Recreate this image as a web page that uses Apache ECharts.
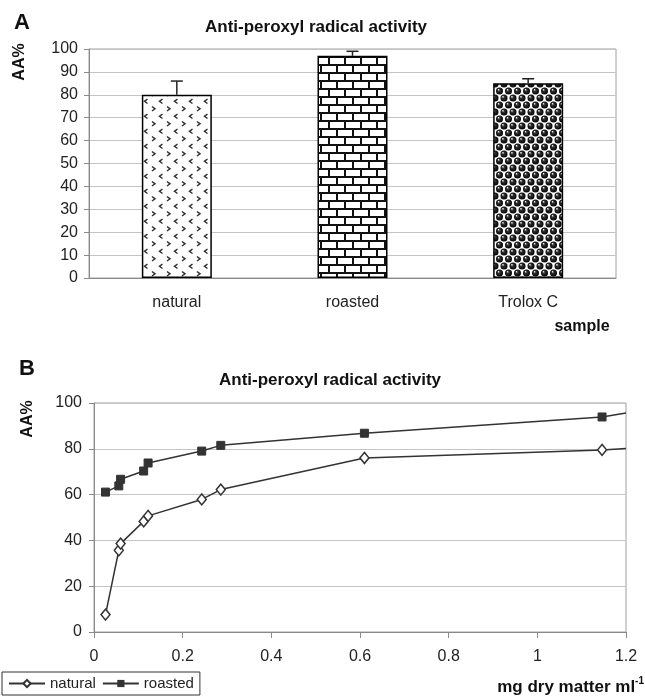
<!DOCTYPE html>
<html>
<head>
<meta charset="utf-8">
<script src="https://cdn.jsdelivr.net/npm/echarts@6/dist/echarts.min.js"></script>
<style>
  html, body { margin: 0; padding: 0; background: #fff; }
  #main { width: 645px; height: 698px; }
</style>
</head>
<body>
<div id="main"></div>
<script>
// panel A data
var categories = ["natural", "roasted", "Trolox C"];
var aaMeans = [80, 97, 85];
var aaErrors = [6, 2, 2];

// panel B data
var concentration = [0.026, 0.056, 0.06, 0.112, 0.122, 0.243, 0.286, 0.61, 1.146, 1.2];
var naturalAA = [7.6, 35.7, 38.6, 48.3, 50.7, 57.9, 62.2, 76.0, 79.5, 80.1];
var roastedAA = [61.1, 63.8, 66.7, 70.3, 73.8, 79.0, 81.5, 86.8, 93.9, 95.6];

var yTicksA = { min: 0, max: 100, interval: 10 };
var yTicksB = { min: 0, max: 100, interval: 20 };
var xTicksB = { min: 0, max: 1.2, interval: 0.2 };

var FONT = '"Liberation Sans", Arial, sans-serif';

// hatch patterns like the excel fills
function chevronPattern() {
  var c = document.createElement("canvas");
  c.width = 15; c.height = 15;
  var g = c.getContext("2d");
  g.fillStyle = "#fff"; g.fillRect(0, 0, 15, 15);
  g.strokeStyle = "#333"; g.lineWidth = 1.5;
  // ">" row
  g.beginPath(); g.moveTo(2, 1.5); g.lineTo(5, 3.8); g.lineTo(2, 6); g.stroke();
  // "<" row, shifted half a tile
  g.beginPath(); g.moveTo(12.5, 9); g.lineTo(9.5, 11.3); g.lineTo(12.5, 13.5); g.stroke();
  return c;
}
function brickPattern() {
  var c = document.createElement("canvas");
  c.width = 16; c.height = 16;
  var g = c.getContext("2d");
  g.fillStyle = "#fff"; g.fillRect(0, 0, 16, 16);
  g.fillStyle = "#111";
  g.fillRect(0, 0, 16, 2);
  g.fillRect(0, 8, 16, 2);
  g.fillRect(0, 0, 2, 8);
  g.fillRect(8, 8, 2, 8);
  return c;
}
function spherePattern() {
  var c = document.createElement("canvas");
  c.width = 9; c.height = 14;
  var g = c.getContext("2d");
  g.fillStyle = "#fff"; g.fillRect(0, 0, 9, 14);
  var pts = [[0, 0], [9, 0], [0, 14], [9, 14], [4.5, 7]];
  pts.forEach(function (p) {
    var gr = g.createRadialGradient(p[0] - 1.2, p[1] - 1.4, 0.2, p[0], p[1], 3.6);
    gr.addColorStop(0, "#eee");
    gr.addColorStop(0.3, "#333");
    gr.addColorStop(1, "#000");
    g.fillStyle = gr;
    g.beginPath(); g.arc(p[0], p[1], 3.5, 0, Math.PI * 2); g.fill();
  });
  return c;
}
var fills = [chevronPattern(), brickPattern(), spherePattern()].map(function (cv) {
  return { image: cv, repeat: "repeat" };
});

var myChart = echarts.init(document.getElementById("main"), null, { renderer: "canvas" });

var axisGray = "#8a8a8a";
var gridGray = "#c4c4c4";

function label(x, y, text, size, rot) {
  return {
    type: "text", x: x, y: y, rotation: rot || 0,
    style: {
      text: text, font: "bold " + size + "px " + FONT, fill: "#111",
      align: "center", verticalAlign: "middle", textAlign: "center", textVerticalAlign: "middle"
    }
  };
}

var option = {
  animation: false,
  backgroundColor: "#fff",
  textStyle: { fontFamily: FONT },
  grid: [
    { left: 89, top: 49, width: 527, height: 229, show: true, borderColor: "#a0a0a0", borderWidth: 1 },
    { left: 94, top: 403, width: 532, height: 229, show: true, borderColor: "#a0a0a0", borderWidth: 1 }
  ],
  xAxis: [
    {
      gridIndex: 0,
      type: "category",
      data: categories,
      axisLine: { lineStyle: { color: axisGray } },
      axisTick: { length: 6, lineStyle: { color: axisGray } },
      axisLabel: { margin: 17, fontSize: 16, color: "#222", fontFamily: FONT }
    },
    {
      gridIndex: 1,
      type: "value",
      min: xTicksB.min,
      max: xTicksB.max,
      interval: xTicksB.interval,
      splitLine: { show: false },
      axisLine: { onZero: false, lineStyle: { color: axisGray } },
      axisTick: { length: 6, lineStyle: { color: axisGray } },
      axisLabel: {
        margin: 17, fontSize: 16, color: "#222", fontFamily: FONT,
        formatter: function (v) { return String(Math.round(v * 10) / 10); }
      }
    }
  ],
  yAxis: [
    {
      gridIndex: 0,
      type: "value",
      min: yTicksA.min,
      max: yTicksA.max,
      interval: yTicksA.interval,
      axisLine: { show: true, lineStyle: { color: axisGray } },
      axisTick: { show: true, length: 5, lineStyle: { color: axisGray } },
      splitLine: { lineStyle: { color: gridGray } },
      axisLabel: { margin: 11, fontSize: 16, color: "#222", fontFamily: FONT }
    },
    {
      gridIndex: 1,
      type: "value",
      min: yTicksB.min,
      max: yTicksB.max,
      interval: yTicksB.interval,
      axisLine: { show: true, lineStyle: { color: axisGray } },
      axisTick: { show: true, length: 5, lineStyle: { color: axisGray } },
      splitLine: { lineStyle: { color: gridGray } },
      axisLabel: { margin: 12, fontSize: 16, color: "#222", fontFamily: FONT }
    }
  ],
  legend: {
    data: ["natural", "roasted"],
    left: 2,
    top: 672,
    borderColor: "#333",
    borderWidth: 1,
    padding: [4, 6],
    itemWidth: 36,
    itemHeight: 9,
    itemGap: 6,
    textStyle: { fontSize: 15, color: "#222", fontFamily: FONT }
  },
  graphic: [
    label(22, 23, "A", 22),
    label(27, 369, "B", 22),
    label(316, 27, "Anti-peroxyl radical activity", 17),
    label(330, 380, "Anti-peroxyl radical activity", 17),
    label(20, 62, "AA%", 16, Math.PI / 2),
    label(28, 419, "AA%", 16, Math.PI / 2),
    label(582, 327, "sample", 16),
    {
      type: "text", x: 644, y: 686,
      style: {
        text: "{m|mg dry matter ml}{s|-1}",
        align: "right", verticalAlign: "middle", textAlign: "right", textVerticalAlign: "middle",
        rich: {
          m: { font: "bold 17px " + FONT, fill: "#111", lineHeight: 20, verticalAlign: "bottom" },
          s: { font: "bold 10px " + FONT, fill: "#111", lineHeight: 20, verticalAlign: "top" }
        }
      }
    }
  ],
  series: [
    {
      name: "AA",
      type: "bar",
      xAxisIndex: 0,
      yAxisIndex: 0,
      barWidth: 70,
      itemStyle: { borderColor: "#000", borderWidth: 1.5 },
      data: aaMeans.map(function (v, i) {
        return { value: v, itemStyle: { color: fills[i] } };
      })
    },
    {
      name: "error",
      type: "custom",
      xAxisIndex: 0,
      yAxisIndex: 0,
      z: 5,
      data: aaMeans.map(function (v, i) { return [i, v, v + aaErrors[i]]; }),
      renderItem: function (params, api) {
        var lo = api.coord([api.value(0), api.value(1)]);
        var hi = api.coord([api.value(0), api.value(2)]);
        var st = { stroke: "#222", lineWidth: 1.5 };
        return {
          type: "group",
          children: [
            { type: "line", shape: { x1: lo[0], y1: lo[1], x2: hi[0], y2: hi[1] }, style: st },
            { type: "line", shape: { x1: hi[0] - 6, y1: hi[1], x2: hi[0] + 6, y2: hi[1] }, style: st }
          ]
        };
      }
    },
    {
      name: "natural",
      type: "line",
      xAxisIndex: 1,
      yAxisIndex: 1,
      symbol: "diamond",
      symbolSize: [9, 11],
      lineStyle: { color: "#333", width: 1.5 },
      itemStyle: { color: "#fff", borderColor: "#333", borderWidth: 1.5 },
      data: concentration.map(function (x, i) {
        var d = { value: [x, naturalAA[i]] };
        if (i === concentration.length - 1) d.symbol = "none";
        return d;
      })
    },
    {
      name: "roasted",
      type: "line",
      xAxisIndex: 1,
      yAxisIndex: 1,
      symbol: "rect",
      symbolSize: 8,
      lineStyle: { color: "#333", width: 1.5 },
      itemStyle: { color: "#333", borderColor: "#333" },
      data: concentration.map(function (x, i) {
        var d = { value: [x, roastedAA[i]] };
        if (i === concentration.length - 1) d.symbol = "none";
        return d;
      })
    }
  ]
};

myChart.setOption(option);
</script>
</body>
</html>
